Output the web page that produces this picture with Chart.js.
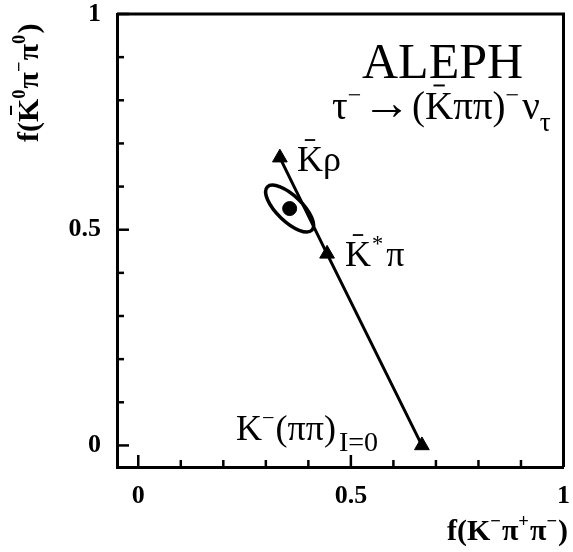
<!DOCTYPE html>
<html>
<head>
<meta charset="utf-8">
<script src="https://cdn.jsdelivr.net/npm/chart.js@4"></script>
<style>
  html, body { margin: 0; padding: 0; background: #fff; }
  #c { display: block; }
</style>
</head>
<body>
<canvas id="c" width="573" height="552"></canvas>
<script>
// ── Data ──────────────────────────────────────
// model points: K̄ρ, K̄*π, K⁻(ππ)I=0
const modelX = [0.333, 0.444, 0.667];
const modelY = [0.667, 0.444, 0.0];
// measured fraction
const fitX = [0.356];
const fitY = [0.549];
// 1σ contour: semi axes (data units) and tilt (deg)
const ellA     = [0.073];
const ellB     = [0.03];
const ellAngle = [-44];

const xTickVals  = [0, 0.1, 0.2, 0.3, 0.4, 0.5, 0.6, 0.7, 0.8, 0.9, 1];
const yTickVals  = [0, 0.1, 0.2, 0.3, 0.4, 0.5, 0.6, 0.7, 0.8, 0.9, 1];
const tickLabels = [0, 0.5, 1];

const SERIF = "'Liberation Serif', 'Times New Roman', serif";

// ── Rich text helper (sup / sub / overbar) ────
// part = [text, mode, gapAfter, sizeFactor]
function drawRich(ctx, x, y, parts, size, weight) {
  let cx = x;
  parts.forEach(p => {
    const m = p[1] || '';
    let fs = size * (p[3] || 1), dy = 0;
    if (m === 'sup') { fs = size * (p[3] || 0.62); dy = -size * 0.42; }
    if (m === 'sub') { fs = size * (p[3] || 0.62); dy = size * 0.3; }
    ctx.font = `${weight} ${fs}px ${SERIF}`;
    ctx.fillText(p[0], cx, y + dy);
    const w = ctx.measureText(p[0]).width;
    if (m === 'bar') {
      ctx.save();
      ctx.lineWidth = Math.max(1.5, size * 0.05);
      ctx.beginPath();
      const by = y - size * 0.86;
      ctx.moveTo(cx + w * 0.3, by);
      ctx.lineTo(cx + w * 0.7, by);
      ctx.stroke();
      ctx.restore();
    }
    cx += w + (p[2] || 0);
  });
  return cx;
}

// ── Frame + inward ticks ──────────────────────
const framePlugin = {
  id: 'frame',
  afterDraw(chart) {
    const { ctx, chartArea: a, scales: { x, y } } = chart;
    ctx.save();
    ctx.strokeStyle = '#000';
    ctx.lineWidth = 3;
    ctx.beginPath();
    ctx.moveTo(a.left, a.top);
    ctx.lineTo(a.right, a.top);
    ctx.lineTo(a.right, a.bottom);
    ctx.stroke();

    ctx.lineWidth = 2.5;
    x.ticks.forEach(t => {
      const px = x.getPixelForValue(t.value);
      const len = tickLabels.includes(t.value) ? 12 : 7;
      ctx.beginPath();
      ctx.moveTo(px, a.bottom);
      ctx.lineTo(px, a.bottom - len);
      ctx.stroke();
    });
    y.ticks.forEach(t => {
      const py = y.getPixelForValue(t.value);
      const len = tickLabels.includes(t.value) ? 12 : 7;
      ctx.beginPath();
      ctx.moveTo(a.left, py);
      ctx.lineTo(a.left + len, py);
      ctx.stroke();
    });
    ctx.restore();
  },
};

// ── Error ellipse ─────────────────────────────
const ellipsePlugin = {
  id: 'ellipse',
  afterDatasetsDraw(chart) {
    const { ctx, scales: { x, y } } = chart;
    const cx = x.getPixelForValue(fitX[0]);
    const cy = y.getPixelForValue(fitY[0]);
    const sx = Math.abs(x.getPixelForValue(1) - x.getPixelForValue(0));
    const th = ellAngle[0] * Math.PI / 180;
    ctx.save();
    ctx.strokeStyle = '#000';
    ctx.lineWidth = 3.5;
    ctx.beginPath();
    ctx.ellipse(cx, cy, ellA[0] * sx, ellB[0] * sx, -th, 0, Math.PI * 2);
    ctx.stroke();
    ctx.restore();
  },
};

// ── Annotations & axis titles ─────────────────
const textPlugin = {
  id: 'texts',
  afterDraw(chart) {
    const { ctx } = chart;
    ctx.save();
    ctx.fillStyle = '#000';
    ctx.strokeStyle = '#000';
    ctx.textBaseline = 'alphabetic';
    ctx.textAlign = 'left';

    drawRich(ctx, 362, 78, [['ALEPH']], 50, 'normal');
    drawRich(ctx, 332, 119, [
      ['τ'], ['−', 'sup', 1], ['→', '', 1, 1.25], ['('], ['K', 'bar'], ['ππ'], [')'],
      ['−', 'sup', 3], ['ν'], ['τ', 'sub', 0, 0.7],
    ], 39, 'normal');

    drawRich(ctx, 297, 171, [['K', 'bar'], ['ρ']], 36, 'normal');
    drawRich(ctx, 345, 266, [['K', 'bar', 1], ['*', 'sup', 3], ['π']], 36, 'normal');
    drawRich(ctx, 236, 440, [['K'], ['−', 'sup', 1], ['(ππ)', '', 3], ['I=0', 'sub', 0, 0.78]], 36, 'normal');

    // x title
    drawRich(ctx, 447, 540, [
      ['f(K'], ['−', 'sup', 1], ['π'], ['+', 'sup', 1], ['π'], ['−', 'sup', 1], [')'],
    ], 30, 'bold');

    // y title (rotated)
    ctx.translate(38, 142);
    ctx.rotate(-Math.PI / 2);
    drawRich(ctx, 0, 0, [
      ['f(K'], ['0', 'sup', 1], ['π'], ['−', 'sup', 1], ['π'], ['0', 'sup', 1], [')'],
    ], 30, 'bold');
    // overbar on the K of the y title
    ctx.font = `bold 30px ${SERIF}`;
    const wf = ctx.measureText('f(').width;
    const wk = ctx.measureText('K').width;
    ctx.lineWidth = 2;
    ctx.beginPath();
    ctx.moveTo(wf + wk * 0.3, -27);
    ctx.lineTo(wf + wk * 0.7, -27);
    ctx.stroke();
    ctx.restore();
  },
};

// ── Chart ─────────────────────────────────────
function zeroPad(scale) {
  scale.paddingLeft = 0;
  scale.paddingRight = 0;
  scale.paddingTop = 0;
  scale.paddingBottom = 0;
}

const TICK_FONT = { family: SERIF, size: 26, weight: 'bold' };

new Chart(document.getElementById('c').getContext('2d'), {
  type: 'scatter',
  data: {
    datasets: [
      {
        label: 'models',
        data: modelX.map((v, i) => ({ x: v, y: modelY[i] })),
        showLine: true,
        borderColor: '#000',
        borderWidth: 3,
        pointStyle: 'triangle',
        pointRadius: 8.5,
        pointBackgroundColor: '#000',
        pointBorderColor: '#000',
        pointBorderWidth: 1,
      },
      {
        label: 'fit',
        data: fitX.map((v, i) => ({ x: v, y: fitY[i] })),
        pointStyle: 'circle',
        pointRadius: 7,
        pointBackgroundColor: '#000',
        pointBorderColor: '#000',
      },
    ],
  },
  options: {
    responsive: false,
    animation: false,
    events: [],
    layout: { padding: { top: 14, right: 2, left: 0, bottom: 0 } },
    plugins: { legend: { display: false }, tooltip: { enabled: false } },
    scales: {
      x: {
        type: 'linear',
        min: -0.05,
        max: 1,
        afterBuildTicks: s => { s.ticks = xTickVals.map(v => ({ value: v })); },
        afterFit: s => { s.height = 85; zeroPad(s); },
        grid: { display: false, drawTicks: false },
        border: { display: true, color: '#000', width: 3 },
        ticks: {
          autoSkip: false,
          maxRotation: 0,
          padding: 14,
          color: '#000',
          font: TICK_FONT,
          callback: v => (tickLabels.includes(v) ? String(v) : ''),
        },
      },
      y: {
        type: 'linear',
        min: -0.05,
        max: 1,
        afterBuildTicks: s => { s.ticks = yTickVals.map(v => ({ value: v })); },
        afterFit: s => { s.width = 117; zeroPad(s); },
        grid: { display: false, drawTicks: false },
        border: { display: true, color: '#000', width: 3 },
        ticks: {
          autoSkip: false,
          padding: 16,
          color: '#000',
          font: TICK_FONT,
          callback: v => (tickLabels.includes(v) ? String(v) : ''),
        },
      },
    },
  },
  plugins: [framePlugin, ellipsePlugin, textPlugin],
});
</script>
</body>
</html>
